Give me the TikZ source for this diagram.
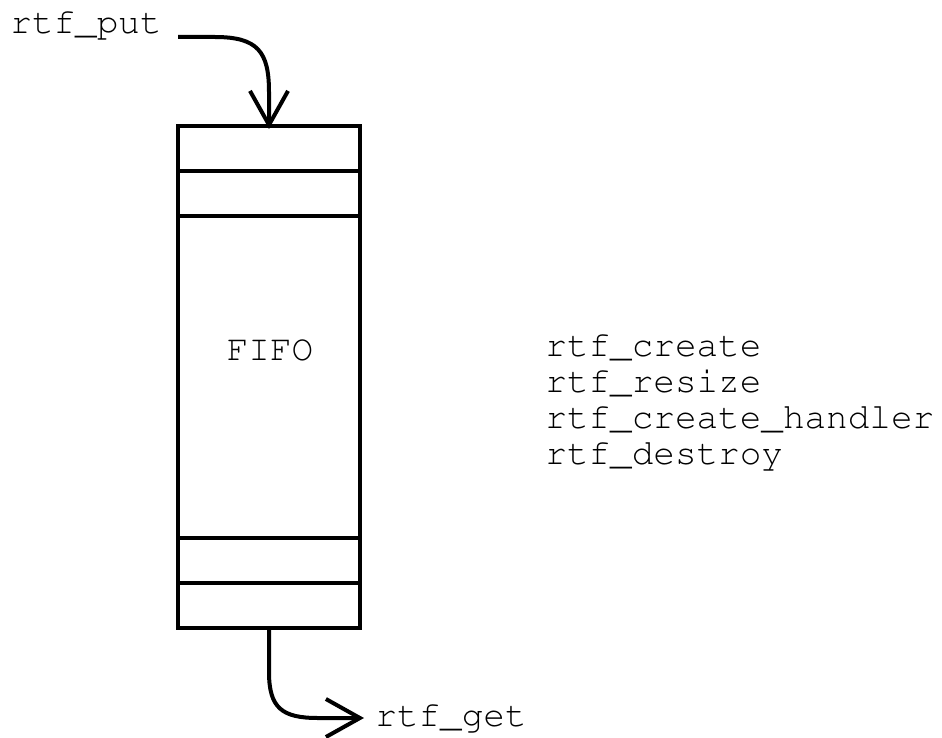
\documentclass[tikz,border=0pt]{standalone}
\usepackage[T1]{fontenc}
\usepackage{courier}
\usetikzlibrary{arrows.meta}
\begin{document}
\begin{tikzpicture}[x=0.5pt,y=-0.5pt,
  lbl/.style={font=\ttfamily\fontsize{18}{18}\selectfont, inner sep=0pt, anchor=base west},
  flow/.style={line width=2pt, -{Straight Barb[length=17pt,width=19pt,line width=2pt]}},
  fifobox/.style={draw, line width=2pt, minimum width=91pt, minimum height=251pt, inner sep=0pt}]
  \useasboundingbox (0,0) rectangle (942,738);

  % the queue
  \node[fifobox] (fifo) at (269,377) {};
  \node[lbl, anchor=base] (fifolbl) at (270,360) {FIFO};
  \foreach \yy in {171,216,538,583}
    \draw[line width=2pt] (fifo.west |- 0,\yy) -- (fifo.east |- 0,\yy);

  % producer side
  \node[lbl] (put) at (10,34) {rtf\_put};
  \coordinate (putstart) at (178,37);
  \coordinate (putend) at (269,129);
  \draw[flow] (putstart) -- (215,37) .. controls (258,37) and (269,52) .. (269,92) -- (putend);

  % consumer side
  \node[lbl] (get) at (375,726) {rtf\_get};
  \coordinate (getend) at (364,718);
  \draw[flow] (fifo.south) -- (269,672) .. controls (269,708) and (282,718) .. (318,718) -- (getend);

  % management calls
  \node[lbl, align=left, anchor=north west] (api) at (545,333)
    {rtf\_create\\rtf\_resize\\rtf\_create\_handler\\rtf\_destroy};
\end{tikzpicture}
\end{document}
